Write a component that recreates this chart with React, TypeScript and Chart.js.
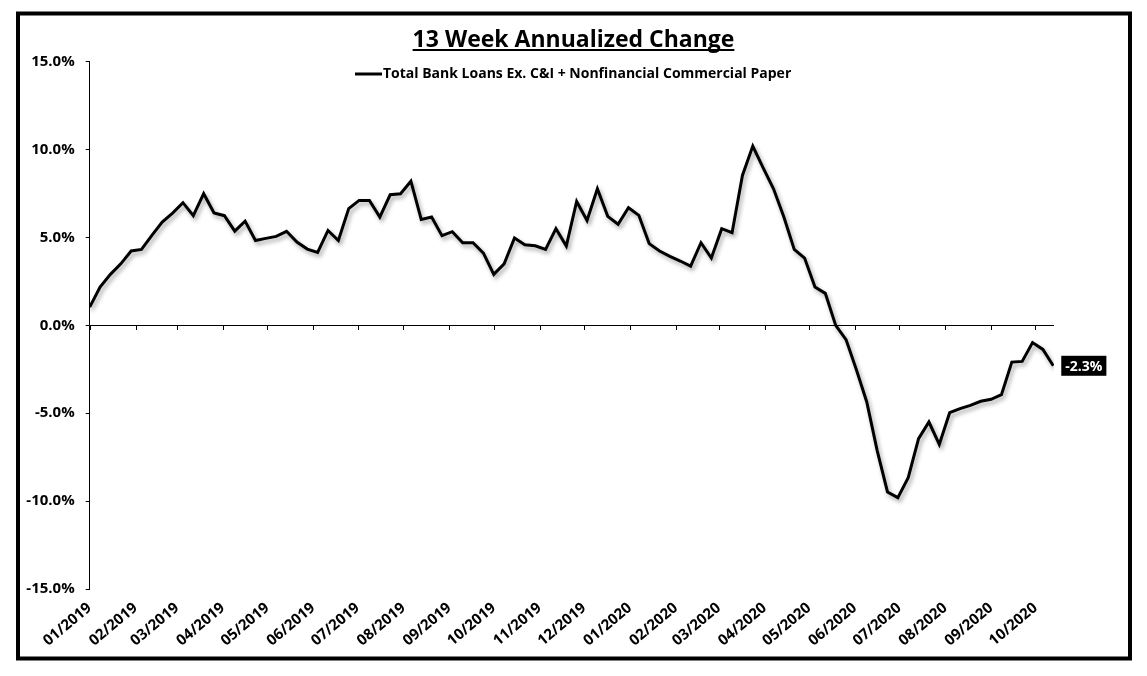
import React, { useEffect, useRef } from "react";
import { Chart, registerables } from "chart.js";

Chart.register(...registerables);

const TITLE = "13 Week Annualized Change";
const SERIES_NAME = "Total Bank Loans Ex. C&I + Nonfinancial Commercial Paper";

// Month tick labels (MM/YYYY)
const monthLabels = [
  "01/2019", "02/2019", "03/2019", "04/2019", "05/2019", "06/2019", "07/2019",
  "08/2019", "09/2019", "10/2019", "11/2019", "12/2019", "01/2020", "02/2020",
  "03/2020", "04/2020", "05/2020", "06/2020", "07/2020", "08/2020", "09/2020",
  "10/2020",
];

// Weekly 13-week annualized change (%), starting first week of Jan 2019
const values = [
  1.04, 2.18, 2.9, 3.5, 4.23, 4.32, 5.12, 5.88, 6.39, 6.98,
  6.24, 7.49, 6.39, 6.24, 5.36, 5.93, 4.83, 4.95, 5.06, 5.35,
  4.74, 4.34, 4.15, 5.4, 4.83, 6.64, 7.11, 7.11, 6.16, 7.43,
  7.49, 8.2, 6.03, 6.16, 5.1, 5.33, 4.7, 4.7, 4.11, 2.9,
  3.5, 4.97, 4.59, 4.53, 4.32, 5.5, 4.51, 7.05, 5.97, 7.77,
  6.2, 5.75, 6.69, 6.26, 4.65, 4.23, 3.92, 3.66, 3.37, 4.7,
  3.83, 5.5, 5.27, 8.53, 10.2, 8.96, 7.77, 6.16, 4.32, 3.83,
  2.18, 1.82, 0.0, -0.81, -2.52, -4.36, -7.11, -9.48, -9.8, -8.67,
  -6.45, -5.5, -6.77, -4.97, -4.74, -4.55, -4.32, -4.21, -3.94, -2.09,
  -2.05, -0.98, -1.37, -2.3,
];

const yTicks = [-15, -10, -5, 0, 5, 10, 15];

const DAY = 86400000;
const ORIGIN = Date.UTC(2019, 0, 1);
const monthDays = monthLabels.map((l) => {
  const [m, y] = l.split("/").map(Number);
  return (Date.UTC(y, m - 1, 1) - ORIGIN) / DAY;
});
const weekDays = values.map((_, i) => i * 7);

const FONT = "'Open Sans', 'DejaVu Sans', sans-serif";

export default function App() {
  const ref = useRef<HTMLCanvasElement | null>(null);

  useEffect(() => {
    const canvas = ref.current;
    if (!canvas) return;

    const decor = {
      id: "decor",
      beforeDatasetsDraw(chart: any) {
        const { ctx, chartArea, scales } = chart;
        const y0 = scales.y.getPixelForValue(0);
        ctx.save();
        ctx.strokeStyle = "#000";
        ctx.lineWidth = 1;
        ctx.beginPath();
        ctx.moveTo(chartArea.left, Math.round(y0) + 0.5);
        ctx.lineTo(chartArea.right, Math.round(y0) + 0.5);
        monthDays.forEach((d) => {
          const x = Math.round(scales.x.getPixelForValue(d)) + 0.5;
          ctx.moveTo(x, Math.round(y0));
          ctx.lineTo(x, Math.round(y0) + 5);
        });
        ctx.stroke();
        ctx.restore();
      },
      beforeDatasetDraw(chart: any) {
        const ctx = chart.ctx;
        ctx.save();
        ctx.shadowColor = "rgba(0,0,0,0.35)";
        ctx.shadowBlur = 4;
        ctx.shadowOffsetX = 2;
        ctx.shadowOffsetY = 3;
      },
      afterDatasetDraw(chart: any) {
        chart.ctx.restore();
      },
      afterDatasetsDraw(chart: any) {
        const { ctx, scales } = chart;
        const last = values[values.length - 1];
        const x = scales.x.getPixelForValue(weekDays[weekDays.length - 1]);
        const y = scales.y.getPixelForValue(last);
        const txt = last.toFixed(1) + "%";
        ctx.save();
        ctx.font = `bold 14px ${FONT}`;
        const w = ctx.measureText(txt).width + 8;
        ctx.fillStyle = "#000";
        ctx.fillRect(x + 8, y - 10, w, 20);
        ctx.fillStyle = "#fff";
        ctx.textBaseline = "middle";
        ctx.textAlign = "left";
        ctx.fillText(txt, x + 12, y + 1);
        ctx.restore();
      },
      afterDraw(chart: any) {
        const { ctx } = chart;
        ctx.save();
        // Title
        ctx.fillStyle = "#000";
        ctx.font = `bold 23px ${FONT}`;
        ctx.textAlign = "center";
        ctx.textBaseline = "alphabetic";
        const cx = 565.5;
        ctx.fillText(TITLE, cx, 39);
        const tw = ctx.measureText(TITLE).width;
        ctx.fillRect(cx - tw / 2, 41, tw, 2);
        // Legend
        ctx.strokeStyle = "#000";
        ctx.lineWidth = 3;
        ctx.beginPath();
        ctx.moveTo(347, 66);
        ctx.lineTo(374, 66);
        ctx.stroke();
        ctx.font = `bold 14px ${FONT}`;
        ctx.textAlign = "left";
        ctx.textBaseline = "middle";
        ctx.fillText(SERIES_NAME, 375, 66);
        // Frame
        ctx.lineWidth = 4;
        ctx.strokeRect(10, 5.5, 1112, 645);
        ctx.restore();
      },
    };

    const chart = new Chart(canvas, {
      type: "line",
      data: {
        datasets: [
          {
            label: SERIES_NAME,
            data: values.map((v, i) => ({ x: weekDays[i], y: v })),
            borderColor: "#000",
            borderWidth: 3,
            pointRadius: 0,
            tension: 0,
            fill: false,
            borderJoinStyle: "miter",
          },
        ],
      },
      options: {
        responsive: false,
        animation: false,
        layout: { padding: { left: 0, top: 53.7, right: 85, bottom: 0 } },
        plugins: {
          legend: { display: false },
          title: { display: false },
          tooltip: { enabled: false },
        },
        scales: {
          x: {
            type: "linear",
            min: 0,
            max: 651.5,
            grid: { display: false },
            border: { display: false },
            afterBuildTicks(scale: any) {
              scale.ticks = monthDays.map((v) => ({ value: v }));
            },
            afterFit(scale: any) {
              scale.height = 79;
            },
            ticks: {
              autoSkip: false,
              minRotation: 40,
              maxRotation: 40,
              padding: 2,
              color: "#000",
              font: { family: FONT, weight: "bold", size: 15 },
              callback: (_v: any, i: number) => monthLabels[i],
            },
          },
          y: {
            min: -15,
            max: 15,
            afterBuildTicks(scale: any) {
              scale.ticks = yTicks.map((v) => ({ value: v }));
            },
            afterFit(scale: any) {
              scale.width = 81.7;
            },
            grid: {
              display: true,
              drawOnChartArea: false,
              drawTicks: true,
              tickLength: 4,
              color: "#000",
            },
            border: { display: true, color: "#000", width: 1 },
            ticks: {
              padding: 11,
              color: "#000",
              font: { family: FONT, weight: "bold", size: 15 },
              callback: (v: any) => Number(v).toFixed(1) + "%",
            },
          },
        },
      },
      plugins: [decor],
    } as any);

    return () => chart.destroy();
  }, []);

  return <canvas ref={ref} width={1131} height={660} style={{ display: "block" }} />;
}
